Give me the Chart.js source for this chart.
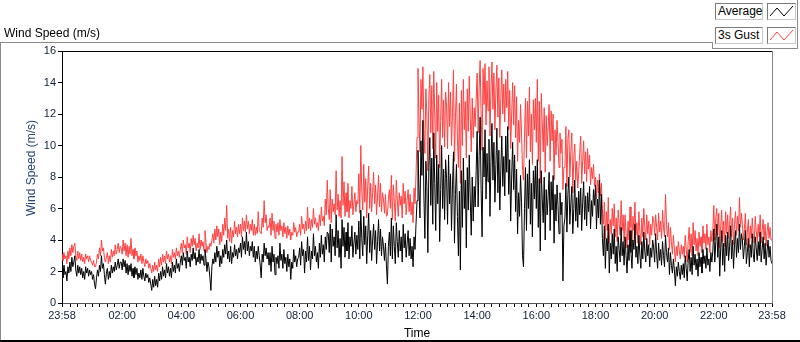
<!DOCTYPE html>
<html>
<head>
<meta charset="utf-8">
<script src="https://cdn.jsdelivr.net/npm/chart.js@4/dist/chart.umd.min.js"></script>
<style>
  html, body { margin: 0; padding: 0; background: #fff; }
  #wrap { position: relative; width: 800px; height: 342px; overflow: hidden; font-family: "Liberation Sans", Arial, sans-serif; }
  canvas { position: absolute; left: 0; top: 0; }
  .ln { position: absolute; }
  #title { position: absolute; left: 4px; top: 26px; font-size: 12px; color: #000; white-space: nowrap; }
  #ytitle { position: absolute; left: 31px; top: 168px; transform: translate(-50%, -50%) rotate(-90deg); font-size: 12px; color: #24467a; white-space: nowrap; }
  .lgbox { position: absolute; height: 15px; border: 1px solid #7a7a7a; border-right-color: #c8c8c8; border-bottom-color: #c8c8c8; background: #fff; font-size: 12px; line-height: 15px; padding-left: 2px; box-sizing: content-box; color: #000; white-space: nowrap; }
  .lgsw { position: absolute; width: 27px; height: 15px; border: 1px solid #7a7a7a; border-right-color: #c8c8c8; border-bottom-color: #c8c8c8; background: #fff; }
</style>
</head>
<body>
<div id="wrap">
  <canvas id="c" width="800" height="342"></canvas>
  <div class="ln" style="left:0;top:42px;width:712px;height:1px;background:#8a8a8a"></div>
  <div class="ln" style="left:0;top:42px;width:1px;height:300px;background:#8a8a8a"></div>
  <div class="ln" style="left:0;top:340px;width:800px;height:2px;background:#000"></div>
  <div class="ln" style="left:712px;top:48px;width:86px;height:1px;background:#8a8a8a"></div>
  <div class="ln" style="left:712px;top:42px;width:1px;height:7px;background:#8a8a8a"></div>
  <div class="ln" style="left:797px;top:0;width:1px;height:49px;background:#8a8a8a"></div>
  <div id="title">Wind Speed (m/s)</div>
  <div id="ytitle">Wind Speed (m/s)</div>
  <div class="lgbox" style="left:715px;top:3px;width:44px">Average</div>
  <div class="lgsw" style="left:767px;top:3px"><svg width="27" height="15"><polyline points="2,12 9,4 16,12 25,2" fill="none" stroke="#000" stroke-width="1"/></svg></div>
  <div class="lgbox" style="left:715px;top:27px;width:44px">3s Gust</div>
  <div class="lgsw" style="left:767px;top:27px"><svg width="27" height="15"><polyline points="2,12 9,4 16,12 25,2" fill="none" stroke="#ff4040" stroke-width="1"/></svg></div>
</div>
<script>
// ---- data: one value every 2 minutes from 23:58 (30 values per hour row) ----
const avgValues = [
  2.2,1.6,2.4,1.8,2.0,1.4,2.3,1.9,2.6,2.0,2.9,2.3,2.6,3.0,2.1,1.7,2.4,1.9,2.3,1.8,2.2,1.6,2.0,1.5,2.3,1.9,2.2,1.7,2.1,1.8,
  2.0,1.5,1.8,1.2,0.9,1.6,2.1,1.7,2.4,2.0,3.0,2.2,2.5,1.8,1.2,1.9,2.2,1.5,2.0,1.6,2.4,1.9,2.3,2.0,2.6,2.1,2.4,2.8,2.2,2.6,
  2.6,2.1,2.8,2.3,2.7,1.9,2.5,1.8,2.4,2.0,2.5,1.7,2.2,1.6,2.3,1.8,2.2,1.5,1.9,1.6,2.1,1.5,2.2,1.7,1.4,1.9,1.6,1.8,1.3,1.6,
  1.2,0.8,1.5,1.0,1.7,1.1,1.5,1.0,1.9,1.4,2.0,1.5,2.3,1.7,2.1,1.6,2.5,1.9,2.3,1.7,2.2,1.6,2.6,2.0,2.4,1.9,2.8,2.2,2.5,2.0,
  2.6,3.0,2.4,3.2,2.7,2.9,2.2,3.3,2.6,2.9,2.3,3.1,2.7,3.5,2.8,3.2,2.4,2.9,2.6,3.4,2.5,3.1,2.7,3.0,2.4,3.4,2.8,2.0,2.6,2.3,
  1.6,0.8,2.3,2.8,2.5,3.2,2.6,3.6,2.9,3.3,2.3,3.0,2.5,3.4,2.9,3.7,3.1,4.0,2.8,3.3,2.6,3.6,2.5,3.2,2.9,3.7,3.0,3.4,2.8,3.5,
  3.2,3.8,2.9,4.2,3.4,3.9,3.1,4.5,3.3,3.9,3.0,3.6,3.3,3.9,2.9,3.6,2.6,3.3,2.8,3.6,3.0,2.4,1.6,3.1,2.6,3.8,3.0,3.5,2.8,3.2,
  2.4,3.2,2.0,3.6,2.6,3.1,1.8,2.9,2.5,3.0,2.2,3.8,2.7,3.1,2.2,3.4,2.5,2.9,2.0,3.1,2.3,2.8,1.5,2.6,2.2,3.4,2.6,3.0,2.3,2.8,
  2.9,3.5,2.4,3.9,3.0,3.4,1.9,3.3,2.6,4.2,2.7,3.6,2.1,3.3,2.8,4.4,3.0,3.6,2.6,3.2,2.2,3.8,2.9,4.3,3.1,3.7,2.6,4.2,3.4,4.5,
  4.4,3.2,5.0,2.6,4.7,3.6,4.2,3.0,5.6,3.5,4.6,2.9,4.1,2.2,5.3,3.6,4.8,2.9,4.5,3.3,5.1,2.8,4.2,3.6,4.9,2.9,3.8,4.5,3.1,4.3,
  3.4,5.2,2.8,5.9,4.1,3.0,5.5,3.7,4.9,2.5,4.3,5.7,3.2,4.6,2.7,4.0,5.0,3.4,4.6,2.5,3.9,5.3,3.3,4.7,3.0,4.2,3.6,2.7,3.8,2.4,
  1.2,3.6,4.5,3.0,5.4,2.8,4.9,3.6,2.5,5.1,3.9,2.9,4.6,3.3,4.2,2.6,5.0,3.5,4.4,2.9,3.8,4.6,3.0,4.1,2.8,3.6,2.3,4.2,3.4,5.0,
  6.5,9.7,7.2,5.4,10.3,8.1,11.6,6.8,4.1,9.0,7.4,3.2,8.6,10.5,6.2,9.2,5.0,10.8,7.6,4.6,9.4,6.3,8.8,3.9,7.2,10.0,6.0,8.5,5.3,9.1,
  7.9,5.0,9.4,6.3,8.2,4.6,7.5,9.6,3.8,6.9,8.8,5.5,3.0,7.1,2.1,8.4,4.8,9.2,6.0,7.8,3.5,8.6,5.9,9.4,6.6,4.3,8.0,5.2,7.4,6.1,
  8.4,10.9,6.1,9.3,11.8,7.2,4.2,9.9,8.0,11.0,6.6,9.5,7.7,10.4,5.5,9.0,11.4,7.8,10.2,6.4,8.8,11.1,7.0,9.7,5.9,8.5,10.6,7.4,9.3,6.8,
  10.6,8.3,11.2,6.9,9.1,5.2,8.0,10.2,7.2,9.4,5.8,8.5,4.4,7.0,5.5,8.1,6.4,3.0,2.3,6.0,8.6,4.6,8.2,6.0,9.1,5.0,7.6,4.2,8.4,6.6,
  8.7,6.0,9.1,4.8,7.9,3.3,8.4,6.6,5.1,8.0,4.0,7.2,5.6,6.8,8.3,4.6,7.7,5.9,8.1,3.8,6.9,5.2,7.5,6.2,4.4,7.0,5.6,6.4,1.4,4.9,
  5.4,7.6,4.5,6.9,8.0,5.0,6.3,7.4,4.4,6.0,7.8,5.2,6.7,4.8,7.1,5.6,7.3,4.6,6.4,7.7,5.3,6.8,4.9,7.0,5.8,7.4,4.7,6.5,5.5,7.2,
  6.2,7.5,4.7,6.6,5.4,7.8,5.0,6.9,4.1,3.0,4.9,2.2,4.1,3.3,5.0,1.9,3.8,2.8,4.4,3.1,4.7,2.5,3.6,2.0,4.2,3.4,2.6,4.8,3.0,3.9,
  2.4,4.2,3.0,1.9,3.7,2.7,4.6,3.2,2.2,4.0,3.4,5.0,2.9,3.6,2.5,4.3,3.1,2.2,3.9,2.8,4.5,3.3,2.6,4.1,3.0,3.7,2.3,3.5,2.9,4.0,
  3.5,2.6,4.4,3.1,2.2,3.8,2.7,3.4,2.4,3.9,3.0,2.3,4.3,3.2,2.6,3.5,1.8,3.2,2.4,1.9,2.8,2.1,1.1,2.3,1.7,2.6,2.0,1.5,2.4,1.8,
  2.5,1.6,3.0,2.2,1.4,2.7,3.4,2.0,2.9,1.8,3.6,2.4,3.1,2.1,2.8,1.7,3.2,2.3,2.9,1.9,3.4,2.5,3.0,2.2,3.5,2.4,2.8,2.0,3.2,2.6,
  3.3,4.7,2.6,3.9,5.0,2.9,4.2,1.7,3.5,4.6,2.4,3.8,2.0,4.3,3.0,4.5,2.7,3.6,4.9,2.8,4.0,2.2,3.7,4.6,2.9,4.1,3.2,5.0,3.4,4.4,
  4.0,2.8,3.6,4.6,2.5,3.2,4.1,2.3,3.7,2.9,4.4,3.1,2.6,4.2,3.5,2.7,3.9,3.0,4.5,2.6,3.4,4.2,2.8,3.8,2.4,3.3,4.0,2.9,3.6,2.7,
  2.5
];
const gustValues = [
  3.1,2.7,3.2,2.8,3.0,2.5,3.3,2.8,3.5,3.0,3.7,3.2,3.6,3.8,3.0,2.7,3.3,2.8,3.2,2.7,3.1,2.6,2.9,2.5,3.1,2.8,3.0,2.6,3.0,2.7,
  2.6,2.4,2.7,2.3,2.3,2.6,3.1,2.8,3.5,3.0,4.0,3.3,3.5,2.9,2.6,2.9,3.2,2.5,3.0,2.6,3.4,2.9,3.3,3.0,3.7,3.1,3.4,3.8,3.2,3.6,
  3.5,3.1,4.0,3.3,3.8,3.0,3.7,2.9,3.6,3.1,4.1,3.0,3.4,2.8,3.5,3.0,3.3,2.6,3.0,2.7,3.1,2.5,3.0,2.6,2.3,2.8,2.5,2.7,2.2,2.5,
  2.2,1.9,2.4,2.0,2.6,2.1,2.4,2.0,2.8,2.3,2.9,2.4,3.1,2.6,3.0,2.5,3.3,2.8,3.1,2.6,3.0,2.5,3.4,2.9,3.2,2.8,3.5,3.0,3.3,2.9,
  3.4,3.8,3.2,4.0,3.5,3.7,3.1,4.2,3.5,3.8,3.2,4.1,3.6,4.3,3.7,4.1,3.3,3.8,3.5,4.4,3.4,4.0,3.6,3.9,3.3,4.6,3.8,3.2,3.6,3.4,
  3.8,3.6,4.0,4.4,3.8,4.7,4.0,4.9,4.2,4.7,3.7,4.5,3.9,5.0,4.3,5.4,4.6,6.2,4.1,4.7,3.9,4.8,3.8,4.6,4.2,5.2,4.4,4.8,4.2,5.0,
  4.4,5.0,4.2,5.4,4.6,5.2,4.5,5.6,4.7,5.2,4.4,5.0,4.6,5.3,4.3,5.0,4.3,4.8,4.4,5.8,4.6,4.5,4.4,5.4,4.8,6.5,5.1,5.6,4.6,4.9,
  4.8,5.4,4.3,5.7,4.6,5.2,4.1,5.0,4.5,5.1,4.3,5.3,4.6,4.9,4.2,5.1,4.4,4.8,4.1,4.9,4.3,4.7,4.0,4.5,4.3,5.1,4.5,4.8,4.2,4.5,
  4.5,5.0,4.3,5.5,4.7,5.0,4.4,5.2,4.6,6.1,4.7,5.4,4.6,5.3,4.8,6.0,5.0,5.4,4.8,5.1,4.6,5.6,4.9,6.1,5.2,5.5,4.9,6.6,5.6,7.8,
  6.0,5.3,7.2,5.1,6.6,5.8,6.3,5.6,8.4,5.9,6.9,5.5,6.5,5.4,9.3,6.2,7.7,5.5,7.0,5.8,7.6,5.4,6.5,6.0,7.4,5.6,6.3,7.0,5.8,6.5,
  6.3,8.2,5.7,10.0,7.1,5.9,8.8,6.4,7.9,5.4,7.4,8.7,6.0,7.6,5.8,7.0,8.3,6.3,7.5,5.6,6.8,8.1,6.1,7.6,5.8,7.0,6.6,5.7,6.9,5.5,
  5.6,6.6,7.2,6.0,8.1,5.3,7.5,6.4,5.2,7.8,6.6,5.5,7.0,6.2,6.8,5.4,7.6,6.3,7.1,5.6,6.5,7.2,5.8,6.9,5.6,6.4,5.1,7.3,6.3,8.1,
  10.5,14.9,11.8,9.6,14.2,12.3,15.0,11.0,9.5,13.6,12.0,8.4,13.0,14.5,10.8,13.8,9.8,14.7,12.0,9.2,14.0,10.9,13.2,8.6,11.6,14.2,10.5,12.9,9.9,13.4,
  12.5,9.8,14.0,11.2,13.4,10.0,12.1,14.8,9.0,11.8,13.9,10.4,8.6,12.7,7.6,13.5,10.0,14.2,11.0,12.8,9.2,13.6,10.9,14.4,11.8,9.6,13.0,10.5,12.4,11.2,
  12.9,14.6,10.8,13.7,15.4,12.0,9.7,14.9,12.6,15.2,11.3,14.1,12.2,15.0,10.6,13.5,15.3,12.3,14.6,11.0,13.4,15.1,11.8,14.3,10.5,13.0,14.8,12.0,13.9,11.5,
  14.2,12.4,14.7,11.0,13.5,9.8,12.0,14.0,11.3,13.8,10.5,13.1,9.0,11.6,10.2,12.6,10.8,8.5,7.8,10.6,13.0,9.2,12.8,10.6,13.7,9.6,12.0,8.8,12.9,11.0,
  13.0,10.2,14.2,9.0,12.8,7.6,13.3,11.5,9.6,12.4,8.3,11.9,10.0,11.2,12.6,9.0,12.2,10.3,12.0,7.8,11.0,9.4,11.6,10.2,8.6,10.8,9.5,10.4,7.2,8.6,
  8.6,11.2,7.4,10.4,11.0,8.0,9.6,10.8,7.0,9.2,10.1,7.8,9.0,7.3,8.3,9.5,10.6,7.6,9.0,10.3,8.2,9.6,7.7,9.8,8.5,9.4,7.5,8.6,7.9,8.8,
  7.4,8.0,6.6,7.8,7.0,8.2,6.8,7.6,6.0,5.0,6.4,4.1,5.8,4.6,6.7,3.8,5.3,4.4,6.0,4.9,6.3,4.2,5.4,3.9,5.9,5.0,4.3,6.5,4.6,5.6,
  3.9,5.6,4.4,3.5,5.2,4.0,6.1,4.8,3.6,5.5,4.6,6.4,4.3,5.1,3.8,5.8,4.5,3.7,5.4,4.2,6.0,4.8,4.0,5.6,4.4,5.2,3.7,5.0,4.3,5.5,
  5.3,4.3,5.6,4.8,4.0,5.7,4.5,5.2,4.1,5.9,4.8,4.2,6.9,5.0,4.2,5.1,3.4,4.8,3.9,3.1,4.3,3.5,2.6,3.6,3.0,3.9,3.3,2.8,3.7,3.1,
  3.6,2.9,4.3,3.4,2.6,3.9,4.8,3.2,4.4,3.0,5.1,3.7,4.6,3.3,4.1,3.0,4.5,3.6,4.2,3.2,4.9,3.8,4.4,3.4,5.0,3.7,4.2,3.2,4.6,3.9,
  4.6,6.2,4.0,5.4,6.0,4.3,5.7,3.5,4.9,5.9,3.9,5.2,3.6,5.8,4.4,5.6,4.1,5.0,6.1,4.2,5.4,3.7,5.0,5.8,4.3,5.5,4.6,6.7,4.8,5.7,
  5.0,4.0,4.7,5.7,3.7,4.5,5.3,3.5,4.9,4.1,5.4,4.3,3.8,5.5,4.6,3.9,5.0,4.2,5.6,3.8,4.6,5.3,4.0,5.0,3.6,4.5,5.1,4.1,4.8,4.0,
  4.0
];
const xTickLabels = ["23:58","02:00","04:00","06:00","08:00","10:00","12:00","14:00","16:00","18:00","20:00","22:00","23:58"];
const xTickMinutes = [0,122,242,362,482,602,722,842,962,1082,1202,1322,1440];
const yTicks = [0,2,4,6,8,10,12,14,16];
const sampleMinutes = 2;

const tickFont = { family: "'Liberation Sans', Arial, sans-serif", size: 11 };
const tickColor = '#10203a';

const framePlugin = {
  id: 'frame',
  afterDraw(chart) {
    const a = chart.chartArea, ctx = chart.ctx;
    ctx.save();
    ctx.lineWidth = 1;
    ctx.strokeStyle = '#000';
    ctx.beginPath(); ctx.moveTo(a.left, a.top + 0.5); ctx.lineTo(a.right, a.top + 0.5); ctx.stroke();
    ctx.strokeStyle = '#8a8a8a';
    ctx.beginPath(); ctx.moveTo(a.right + 0.5, a.top); ctx.lineTo(a.right + 0.5, a.bottom); ctx.stroke();
    ctx.restore();
  }
};

new Chart(document.getElementById('c'), {
  type: 'line',
  data: {
    datasets: [
      { label: 'Average', data: avgValues.map((v, i) => ({ x: i * sampleMinutes, y: v })),
        borderColor: '#000', borderWidth: 1, pointRadius: 0, tension: 0 },
      { label: '3s Gust', data: gustValues.map((v, i) => ({ x: i * sampleMinutes, y: v })),
        borderColor: '#ff4040', borderWidth: 1, pointRadius: 0, tension: 0 }
    ]
  },
  options: {
    responsive: false,
    animation: false,
    devicePixelRatio: 1,
    layout: { padding: { top: 51, right: 28, left: 0, bottom: 0 } },
    plugins: { legend: { display: false }, tooltip: { enabled: false }, title: { display: false } },
    scales: {
      x: {
        type: 'linear', min: 0, max: 1440,
        afterBuildTicks(scale) {
          const t = [{ value: 0 }];
          for (let m = 2; m < 1440; m += 15) t.push({ value: m });
          t.push({ value: 1440 });
          scale.ticks = t;
        },
        afterFit(scale) { scale.height = 39; },
        ticks: {
          autoSkip: false, maxRotation: 0, minRotation: 0, padding: 2,
          font: tickFont, color: tickColor,
          callback(value) { const k = xTickMinutes.indexOf(value); return k >= 0 ? xTickLabels[k] : ''; }
        },
        grid: { drawOnChartArea: false, drawTicks: true, tickLength: 4, tickColor: '#000' },
        border: { display: true, color: '#555', width: 1 },
        title: { display: true, text: 'Time', color: '#000', font: { family: "'Liberation Sans', Arial, sans-serif", size: 12 }, padding: { top: 0, bottom: 1 } }
      },
      y: {
        type: 'linear', min: 0, max: 16,
        afterBuildTicks(scale) { scale.ticks = yTicks.map(v => ({ value: v })); },
        afterFit(scale) { scale.width = 62; },
        ticks: { font: tickFont, color: tickColor, padding: 2 },
        grid: { drawOnChartArea: false, drawTicks: true, tickLength: 4, tickColor: '#000' },
        border: { display: true, color: '#000', width: 1 }
      }
    }
  },
  plugins: [framePlugin]
});
</script>
</body>
</html>
